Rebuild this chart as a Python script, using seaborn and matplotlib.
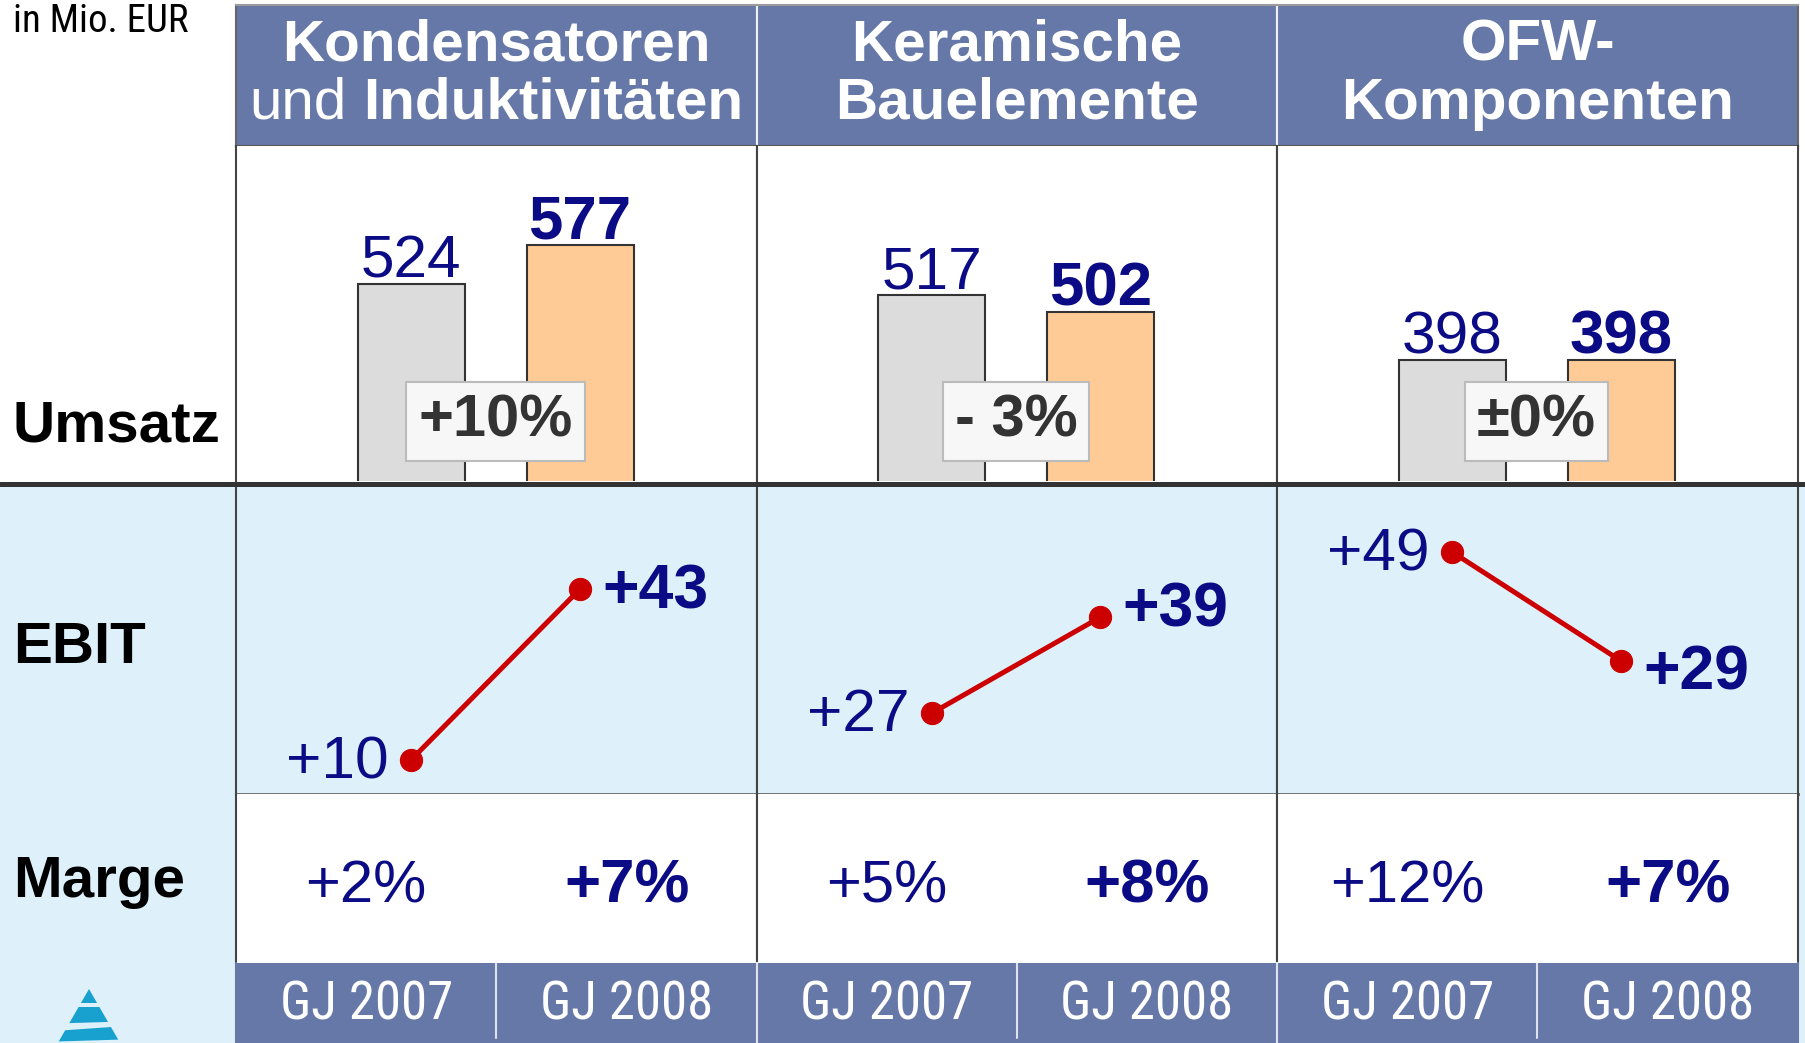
import numpy as np
import pandas as pd
import seaborn as sns
import matplotlib
matplotlib.use("Agg")
from matplotlib import pyplot as plt
from matplotlib import font_manager
from matplotlib.patches import Rectangle, Polygon
from matplotlib.lines import Line2D

# data
years = ["GJ 2007", "GJ 2008"]
title_lines = [
    [[("Kondensatoren", "bold")], [("und", "normal"), ("Induktivitäten", "bold")]],
    [[("Keramische", "bold")], [("Bauelemente", "bold")]],
    [[("OFW-", "bold")], [("Komponenten", "bold")]],
]
umsatz_2007 = [524, 517, 398]
umsatz_2008 = [577, 502, 398]
umsatz_change = ["+10%", "- 3%", "±0%"]
ebit_2007 = [10, 27, 49]
ebit_2008 = [43, 39, 29]
marge_2007 = ["+2%", "+5%", "+12%"]
marge_2008 = ["+7%", "+8%", "+7%"]
row_labels = ["Umsatz", "EBIT", "Marge"]
unit_label = "in Mio. EUR"

# per panel scales as in the original slide
umsatz_ylims = [(260, 710), (353, 649), (247, 666)]
ebit_ylims = [(3.4, 62.9), (16.9, 55.4), (4.6, 61.1)]
ebit_label_dy = [-2, 5, -9]   # vertical nudge (points) for the 2008 labels

navy = "#0B0B85"
red = "#CC0000"
head_col = "#6678A8"
light_blue = "#DEF1FA"
bar_cols = ["#DCDCDC", "#FECB96"]

sns.set_theme(style="white")
plt.rcParams["font.family"] = ["Liberation Sans", "DejaVu Sans"]
names = {f.name for f in font_manager.fontManager.ttflist}
narrow = "Liberation Sans"
for cand in ["Liberation Sans Narrow", "Roboto Condensed", "Open Sans Condensed"]:
    if cand in names:
        narrow = cand
        break

W, H = 1806, 1043
fig = plt.figure(figsize=(W / 100, H / 100), dpi=100)
renderer = fig.canvas.get_renderer()


def rect(x0, y0, x1, y1):
    return [x0 / W, 1 - y1 / H, (x1 - x0) / W, (y1 - y0) / H]


def fx(x):
    return x / W


def fy(y):
    return 1 - y / H


# background
bg = fig.add_axes([0, 0, 1, 1], zorder=-10)
bg.set_xlim(0, W)
bg.set_ylim(H, 0)
bg.axis("off")
bg.add_patch(Rectangle((0, 484), W, H - 484, color=light_blue, lw=0))
logo_col = "#18A0CE"
bg.add_patch(Polygon([(89, 989), (48, 1060), (130, 1060)], closed=True, color=logo_col, lw=0))
for g in [[(40, 1003), (140, 1003), (140, 1007), (40, 1007)],
          [(40, 1024), (140, 1021), (140, 1025), (40, 1032)],
          [(40, 1042), (140, 1039), (140, 1043), (40, 1047)]]:
    bg.add_patch(Polygon(g, closed=True, color=light_blue, lw=0))

fig.text(fx(13), fy(22), unit_label, family=narrow, fontsize=28, va="center", ha="left", color="black")
for lab, yc in zip(row_labels, [426, 648, 882]):
    fig.text(fx(13), fy(yc), lab, fontsize=42, fontweight="bold", va="center", ha="left", color="black")

xs = [236, 757, 1277, 1798]
xlim_cat = (-1.036, 2.047)


def mixed_line(ax, parts, y, size):
    txts = [ax.text(0, y, s, fontweight=w, fontsize=size, color="white",
                    transform=ax.transAxes, va="center", ha="left") for s, w in parts]
    widths = [t.get_window_extent(renderer).width for t in txts]
    gap = 0.28 * size * 100 / 72
    total = sum(widths) + gap * (len(txts) - 1)
    ax_w = ax.get_window_extent(renderer).width
    x = (ax_w - total) / 2
    for t, w in zip(txts, widths):
        t.set_position((x / ax_w, y))
        x += w + gap


for i in range(3):
    x0, x1 = xs[i], xs[i + 1]

    # header
    axh = fig.add_axes(rect(x0, 5, x1, 146))
    axh.set_facecolor(head_col)
    axh.set_xticks([])
    axh.set_yticks([])
    axh.spines["top"].set_color("#9A9A9A")
    axh.spines["bottom"].set_color("#555555")
    axh.spines["left"].set_color("#666666" if i == 0 else "#F0F0F0")
    axh.spines["right"].set_color("#666666" if i == 2 else "#F0F0F0")
    for s in axh.spines.values():
        s.set_linewidth(1.5)
    mixed_line(axh, title_lines[i][0], 0.71, 42)
    mixed_line(axh, title_lines[i][1], 0.30, 42)

    # Umsatz bars
    axu = fig.add_axes(rect(x0, 146, x1, 481))
    df = pd.DataFrame({"year": years, "value": [umsatz_2007[i], umsatz_2008[i]]})
    sns.barplot(data=df, x="year", y="value", hue="year", palette=bar_cols, saturation=1,
                width=0.633, edgecolor="#333333", linewidth=1.5, legend=False, ax=axu)
    axu.set_xlim(*xlim_cat)
    axu.set_ylim(*umsatz_ylims[i])
    axu.set_xticks([])
    axu.set_yticks([])
    axu.set_xlabel("")
    axu.set_ylabel("")
    axu.set_facecolor("white")
    for k in ["top", "bottom"]:
        axu.spines[k].set_visible(False)
    for k in ["left", "right"]:
        axu.spines[k].set_color("#444444")
        axu.spines[k].set_linewidth(1.5)
    for j, v in enumerate(df["value"]):
        axu.annotate(str(v), (j, v), xytext=(0, 5), textcoords="offset points",
                     ha="center", va="baseline", fontsize=43.5 if j == 0 else 44.5, color=navy,
                     fontweight="normal" if j == 0 else "bold")
    axu.text(0.5, 0.178, umsatz_change[i], transform=axu.get_xaxis_transform(),
             ha="center", va="center", fontsize=43, fontweight="bold", color="#333333", zorder=6,
             bbox=dict(boxstyle="square,pad=0.2", fc="#F7F7F7", ec="#BBBBBB", lw=1.5))

    # EBIT line
    axe = fig.add_axes(rect(x0, 486, x1, 794))
    axe.set_facecolor(light_blue)
    sns.lineplot(x=[0, 1], y=[ebit_2007[i], ebit_2008[i]], color=red, lw=3.6, marker="o",
                 markersize=16, markeredgecolor=red, ax=axe)
    axe.set_xlim(*xlim_cat)
    axe.set_ylim(*ebit_ylims[i])
    axe.set_xticks([])
    axe.set_yticks([])
    axe.spines["top"].set_visible(False)
    axe.spines["bottom"].set_color("#666666")
    axe.spines["bottom"].set_linewidth(2)
    for k in ["left", "right"]:
        axe.spines[k].set_color("#444444")
        axe.spines[k].set_linewidth(1.5)
    axe.annotate(f"+{ebit_2007[i]}", (0, ebit_2007[i]), xytext=(-16, -2), textcoords="offset points",
                 ha="right", va="center", fontsize=43.5, color=navy)
    axe.annotate(f"+{ebit_2008[i]}", (1, ebit_2008[i]), xytext=(16, ebit_label_dy[i]),
                 textcoords="offset points", ha="left", va="center", fontsize=45, color=navy,
                 fontweight="bold")

    # Marge
    axm = fig.add_axes(rect(x0, 794, x1, 963))
    axm.set_facecolor("white")
    axm.set_xlim(-0.5, 1.5)
    axm.set_ylim(0, 1)
    axm.set_xticks([])
    axm.set_yticks([])
    for k in ["top", "bottom"]:
        axm.spines[k].set_visible(False)
    for k in ["left", "right"]:
        axm.spines[k].set_color("#444444")
        axm.spines[k].set_linewidth(1.5)
    axm.text(0, 0.45, marge_2007[i], ha="center", va="center", fontsize=43, color=navy)
    axm.text(1, 0.45, marge_2008[i], ha="center", va="center", fontsize=44.5, color=navy,
             fontweight="bold")

    # footer
    axf = fig.add_axes(rect(x0, 963, x1, 1043))
    axf.set_facecolor(head_col)
    axf.set_xlim(-0.5, 1.5)
    axf.set_ylim(0, 1)
    axf.set_xticks([])
    axf.set_yticks([])
    for k in ["top", "bottom"]:
        axf.spines[k].set_visible(False)
    for k in ["left", "right"]:
        axf.spines[k].set_color("#DDE2EE" if (i > 0 and k == "left") or (i < 2 and k == "right") else head_col)
        axf.spines[k].set_linewidth(1.5)
    axf.axvline(0.5, ymin=0.06, color="#DDE2EE", lw=1.5)
    for j, yr in enumerate(years):
        axf.text(j, 0.47, yr, ha="center", va="center", fontsize=38, color="white", family=narrow)

# thick separator under Umsatz
fig.add_artist(Line2D([0, 1], [fy(483.5), fy(483.5)], transform=fig.transFigure,
                      color="#333333", lw=3.6, zorder=20))

fig.savefig("out.png", dpi=100)
